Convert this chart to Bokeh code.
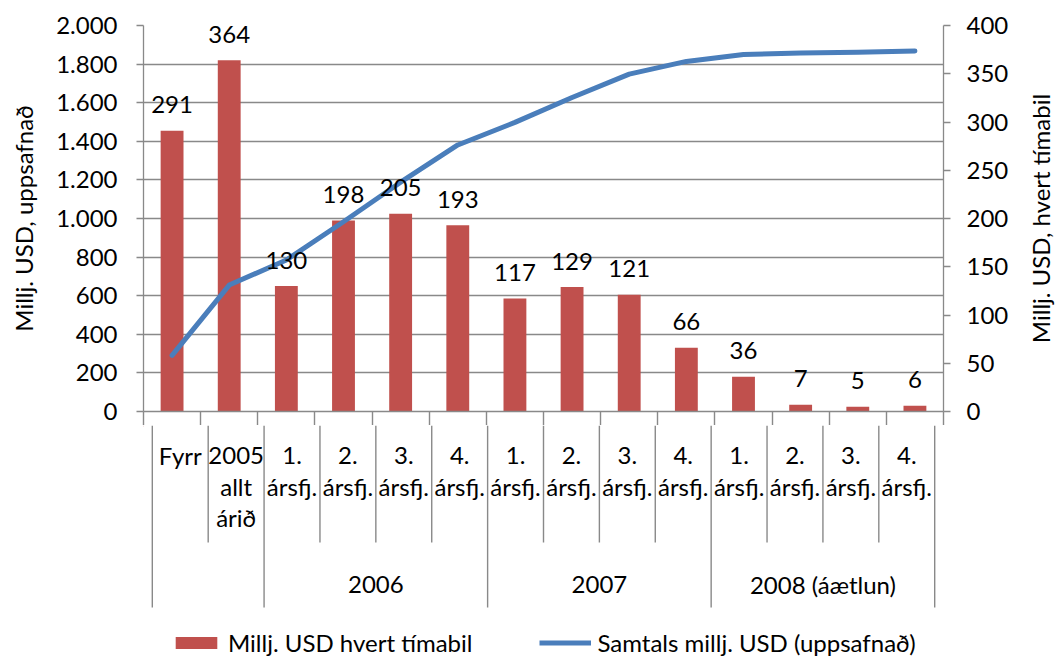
import math
from bokeh.plotting import figure
from bokeh.models import (Range1d, LinearAxis, FixedTicker, CustomJSTickFormatter,
                          Legend, LegendItem)
from bokeh.layouts import column, row
from bokeh.embed import file_html
from bokeh.resources import INLINE
from bokeh.core.properties import value

# ---------------- data ----------------
cat_lines = [["Fyrr"], ["2005", "allt", "árið"],
             ["1.", "ársfj."], ["2.", "ársfj."], ["3.", "ársfj."], ["4.", "ársfj."],
             ["1.", "ársfj."], ["2.", "ársfj."], ["3.", "ársfj."], ["4.", "ársfj."],
             ["1.", "ársfj."], ["2.", "ársfj."], ["3.", "ársfj."], ["4.", "ársfj."]]
group_labels = ["2006", "2007", "2008 (áætlun)"]
group_first = [2, 6, 10]
group_last = [5, 9, 13]
per_period = [291, 364, 130, 198, 205, 193, 117, 129, 121, 66, 36, 7, 5, 6]
cumulative = [291, 655, 785, 983, 1188, 1381, 1498, 1627, 1748, 1814, 1850, 1857, 1862, 1868]
left_ticks = [0, 200, 400, 600, 800, 1000, 1200, 1400, 1600, 1800, 2000]
right_ticks = [0, 50, 100, 150, 200, 250, 300, 350, 400]
series_names = ["Millj. USD hvert tímabil", "Samtals millj. USD (uppsafnað)"]
left_title = "Millj. USD, uppsafnað"
right_title = "Millj. USD, hvert tímabil"

RED = "#c0504d"
BLUE = "#4a7ebb"
GRAY = "#898989"
FONT = "Lato"
FS = "24px"

n = len(per_period)
xs = list(range(n))

W, H = 1056, 657
LW, RW = 40, 32                 # side strips holding the rotated axis titles
CW = W - LW - RW                # central charts width
FRAME_L, FRAME_R = 143, 943     # page x of the plot frame
ML = FRAME_L - LW
MR = (LW + CW) - FRAME_R
TOP_H = 425                     # frame 25..411 plus 14px of category stubs
BOT_H = H - TOP_H
ppc = (FRAME_R - FRAME_L) / n


def side_strip(width, text, cx):
    s = figure(width=width, height=H, x_range=Range1d(0, width), y_range=Range1d(H, 0),
               output_backend="svg", toolbar_location=None, x_axis_location=None,
               y_axis_location=None, min_border=0, outline_line_color=None)
    s.grid.visible = False
    s.text(x=[cx], y=[218], text=[text], angle=math.pi / 2, text_align="center",
           text_baseline="middle", text_font=value(FONT), text_font_size=FS, text_color="black")
    return s


# ---------------- top chart ----------------
p = figure(width=CW, height=TOP_H, x_range=Range1d(-0.5, n - 0.5), y_range=Range1d(0, 2000),
           output_backend="svg", toolbar_location=None, x_axis_location=None,
           min_border_left=ML, min_border_right=MR, min_border_top=25, min_border_bottom=14,
           outline_line_color=None, background_fill_color="white")
p.extra_y_ranges = {"r": Range1d(0, 400)}

fmt = CustomJSTickFormatter(code="return Math.round(tick).toString().replace(/\\B(?=(\\d{3})+(?!\\d))/g, '.');")
left = p.yaxis[0]
left.ticker = FixedTicker(ticks=left_ticks)
left.formatter = fmt
left.major_label_standoff = 19

right = LinearAxis(y_range_name="r", ticker=FixedTicker(ticks=right_ticks))
right.major_label_standoff = 16
p.add_layout(right, "right")

for ax in (left, right):
    ax.axis_line_color = GRAY
    ax.axis_line_width = 1.3
    ax.major_tick_line_color = GRAY
    ax.major_tick_line_width = 1.3
    ax.major_tick_out = 7
    ax.major_tick_in = 0
    ax.minor_tick_line_color = None
    ax.major_label_text_font = FONT
    ax.major_label_text_font_size = FS
    ax.major_label_text_color = "black"

# category axis: line + boundary stubs (labels drawn in the table below)
bounds = [i - 0.5 for i in range(n + 1)]
xaxis = LinearAxis(ticker=FixedTicker(ticks=bounds),
                   formatter=CustomJSTickFormatter(code="return '';"))
xaxis.axis_line_color = GRAY
xaxis.axis_line_width = 1.3
xaxis.major_tick_line_color = GRAY
xaxis.major_tick_line_width = 1.4
xaxis.major_tick_out = 14
xaxis.major_tick_in = 0
xaxis.minor_tick_line_color = None
xaxis.major_label_standoff = 0
xaxis.major_label_text_font_size = "0px"
p.add_layout(xaxis, "below")

p.xgrid.visible = False
p.ygrid[0].ticker = FixedTicker(ticks=left_ticks)
p.ygrid[0].grid_line_color = GRAY
p.ygrid[0].grid_line_width = 1.3

p.vbar(x=xs, top=per_period, width=0.4, y_range_name="r", fill_color=RED, line_color=None)
p.line(x=xs, y=cumulative, line_color=BLUE, line_width=5, line_cap="round", line_join="round")
p.text(x=xs, y=per_period, text=[str(v) for v in per_period], y_range_name="r",
       text_align="center", text_baseline="middle", y_offset=-26,
       text_font=value(FONT), text_font_size=FS, text_color="black")

# ---------------- category table + legend ----------------
padL, padR = 9, 9
b = figure(width=CW, height=BOT_H,
           x_range=Range1d(-0.5 - padL / ppc, n - 0.5 + padR / ppc), y_range=Range1d(BOT_H, 0),
           output_backend="svg", toolbar_location=None, x_axis_location=None, y_axis_location=None,
           min_border_left=ML - padL, min_border_right=MR - padR, min_border_top=0, min_border_bottom=0,
           outline_line_color=None)
b.grid.visible = False

group_bounds = {0, n} | set(group_first)
by1 = [182 if i in group_bounds else 117 for i in range(n + 1)]
b.segment(x0=bounds, x1=bounds, y0=[0] * len(bounds), y1=by1, line_color=GRAY, line_width=1.4)

tx, ty, tt = [], [], []
for i, lines in enumerate(cat_lines):
    for j, s in enumerate(lines):
        tx.append(i)
        ty.append(30 + 31 * j)
        tt.append(s)
b.text(x=tx, y=ty, text=tt, text_align="center", text_baseline="middle",
       text_font=value(FONT), text_font_size=FS, text_color="black")

gx = [(a + c) / 2 for a, c in zip(group_first, group_last)]
b.text(x=gx, y=[159] * len(gx), text=group_labels, text_align="center", text_baseline="middle",
       text_font=value(FONT), text_font_size=FS, text_color="black")

# legend proxies (outside the visible range)
r1 = b.vbar(x=[-50], top=[1], width=0.4, fill_color=RED, line_color=None)
r2 = b.line(x=[-50, -49], y=[1, 1], line_color=BLUE, line_width=5)
legend = Legend(items=[LegendItem(label=series_names[0], renderers=[r1]),
                       LegendItem(label=series_names[1], renderers=[r2])],
                orientation="horizontal", location=(161 - (FRAME_L - padL), 0),
                glyph_width=52, glyph_height=15, label_standoff=6, spacing=67,
                padding=0, margin=0, border_line_color=None, background_fill_alpha=0,
                label_text_font=FONT, label_text_font_size=FS, label_text_color="black")
b.add_layout(legend)

left_strip = side_strip(LW, left_title, 23)
right_strip = side_strip(RW, right_title, 1040 - (LW + CW))

layout = row(left_strip, column(p, b, spacing=0), right_strip, spacing=0)
open("out.html", "w").write(file_html(layout, INLINE))
